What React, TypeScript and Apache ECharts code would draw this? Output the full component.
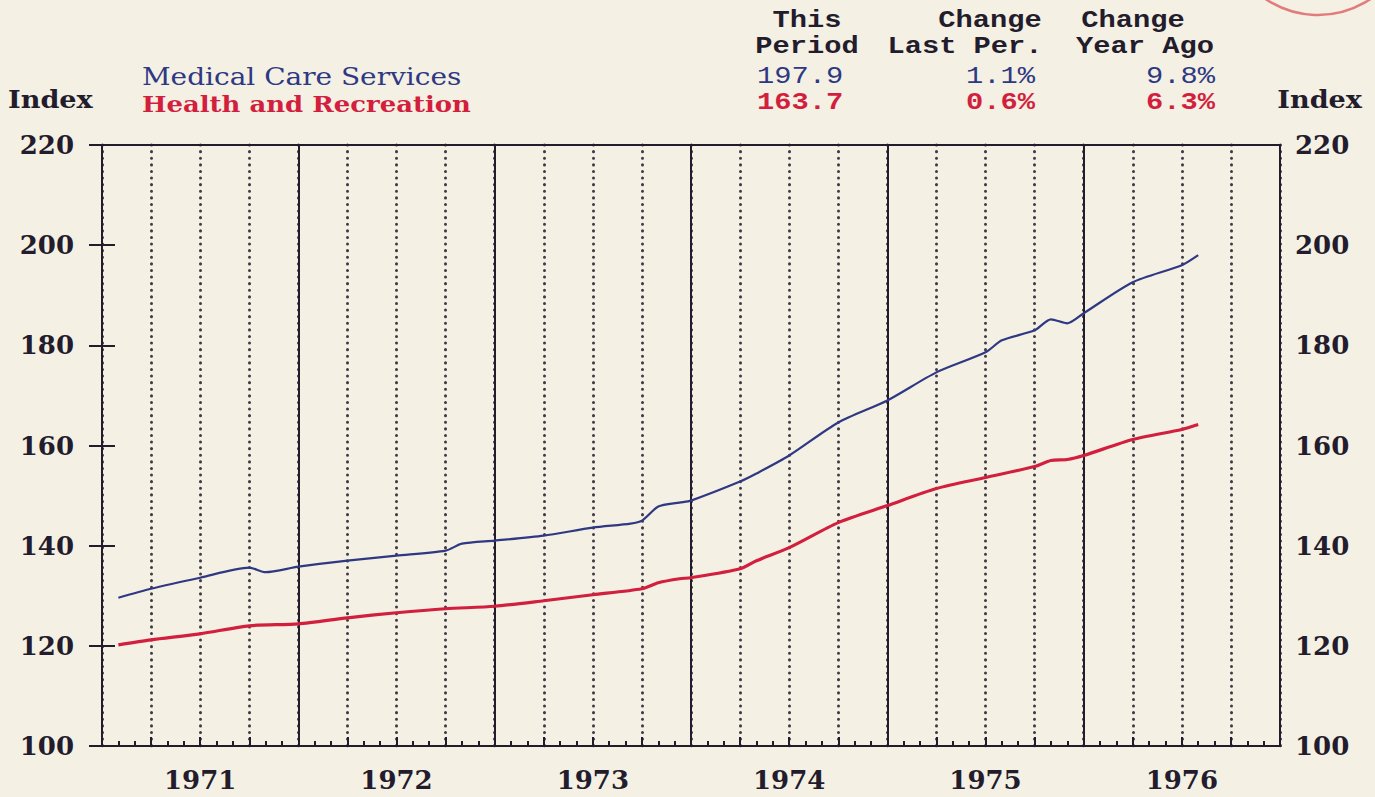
import React, { useEffect, useRef } from "react";
import * as echarts from "echarts";

// months since Jan 1971 (0 = start of 1971, 72 = end of 1976)
const months = [1, 3, 6, 9, 10, 12, 15, 18, 21, 22, 24, 27, 30, 32.3, 33, 34, 35.3, 36, 39, 40, 42, 45, 48, 51, 54, 55, 57, 58, 59, 60, 63, 66, 67];
const medicalCare = [129.6, 131.4, 133.6, 135.6, 134.7, 135.8, 137.0, 138.0, 139.0, 140.4, 141.0, 142.0, 143.6, 144.4, 145.0, 147.8, 148.6, 149.0, 152.8, 154.4, 158.0, 164.6, 169.0, 174.6, 178.6, 181.0, 183.0, 185.2, 184.4, 186.4, 192.6, 196.0, 198.0];
const healthRecreation = [120.2, 121.2, 122.4, 124.0, null, 124.4, 125.6, 126.6, 127.4, null, 127.9, 129.0, 130.2, null, 131.4, 132.6, 133.4, 133.6, 135.4, 137.0, 139.6, 144.6, 148.0, 151.4, 153.6, null, 155.8, 157.0, 157.2, 158.0, 161.2, 163.2, 164.2];
const years = ["1971", "1972", "1973", "1974", "1975", "1976"];
const yTicks = { min: 100, max: 220, interval: 20 };

const headerCols = [
  { title1: "This", title2: "Period", blue: "197.9", red: "163.7" },
  { title1: "Change", title2: "Last Per.", blue: "1.1%", red: "0.6%" },
  { title1: "Change", title2: "Year Ago", blue: "9.8%", red: "6.3%" },
];

const BG = "#f4f0e4";
const BLUE = "#2f3882";
const RED = "#d21f3e";
const INK = "#231c2c";
const SERIF = "'DejaVu Serif', serif";
const MONO = "'Liberation Mono', 'DejaVu Sans Mono', monospace";

export default function App() {
  const ref = useRef<HTMLDivElement>(null);
  useEffect(() => {
    if (!ref.current) return;
    const chart = echarts.init(ref.current, null, { renderer: "svg" });
    const medData = months.map((m, i) => [m, medicalCare[i]]);
    const hrData = months.map((m, i) => [m, healthRecreation[i]]);

    const txt = (text: string, x: number, y: number, fill: string, font: string, align = "left", sx = 1) => ({
      type: "text",
      x,
      y,
      scaleX: sx,
      silent: true,
      style: { text, fill, font, textAlign: align, textVerticalAlign: "middle" },
    });

    const colX = [
      { title: 807, value: 757, valueAlign: "left" },
      { title1: 990, title: 965, value: 1035, valueAlign: "right" },
      { title1: 1133, title: 1145, value: 1215, valueAlign: "right" },
    ];
    const headerEls: any[] = [];
    headerCols.forEach((c, i) => {
      const p: any = colX[i];
      headerEls.push(txt(c.title1, p.title1 ?? p.title, 21, INK, `bold 23px ${MONO}`, "center", 1.25));
      headerEls.push(txt(c.title2, p.title, 47, INK, `bold 23px ${MONO}`, "center", 1.25));
      headerEls.push(txt(c.blue, p.value, 77, BLUE, `23px ${MONO}`, p.valueAlign, 1.25));
      headerEls.push(txt(c.red, p.value, 103, RED, `bold 23px ${MONO}`, p.valueAlign, 1.25));
    });

    chart.setOption({
      animation: false,
      backgroundColor: BG,
      grid: { left: 102, right: 95, top: 145, bottom: 51, containLabel: false },
      xAxis: [
        {
          type: "value",
          min: 0,
          max: 72,
          interval: 3,
          position: "bottom",
          axisLine: { show: true, lineStyle: { color: INK, width: 2 } },
          axisTick: { show: true, inside: true, length: 9, lineStyle: { color: INK, width: 2 } },
          minorTick: { show: true, splitNumber: 3, length: 5, lineStyle: { color: INK, width: 2 } },
          splitLine: { show: true, lineStyle: { color: "#3f3a46", width: 3, type: [0.1, 6.5], cap: "round" } },
          axisLabel: {
            show: true,
            margin: 21,
            color: INK,
            fontFamily: SERIF,
            fontWeight: "bold",
            fontSize: 26,
            formatter: (v: number) => (v % 12 === 6 ? years[(v - 6) / 12] : ""),
          },
        },
        {
          type: "value",
          min: 0,
          max: 72,
          interval: 12,
          position: "top",
          axisLine: { show: true, lineStyle: { color: INK, width: 2 } },
          axisTick: { show: false },
          axisLabel: { show: false },
          splitLine: { show: true, lineStyle: { color: INK, width: 2, type: "solid" } },
        },
      ],
      yAxis: [
        {
          type: "value",
          position: "left",
          ...yTicks,
          axisLine: { show: true, lineStyle: { color: INK, width: 2 } },
          axisTick: { show: true, inside: false, length: 13, lineStyle: { color: INK, width: 2 } },
          axisLabel: { show: true, margin: 28, color: INK, fontFamily: SERIF, fontWeight: "bold", fontSize: 26 },
          splitLine: { show: false },
        },
        {
          type: "value",
          position: "right",
          ...yTicks,
          axisLine: { show: true, lineStyle: { color: INK, width: 2 } },
          axisTick: { show: true, inside: false, length: 13, lineStyle: { color: INK, width: 2 } },
          axisLabel: { show: true, margin: 15, color: INK, fontFamily: SERIF, fontWeight: "bold", fontSize: 26 },
          splitLine: { show: false },
        },
      ],
      series: [
        {
          name: "Medical Care Services",
          type: "line",
          xAxisIndex: 0,
          yAxisIndex: 0,
          data: medData,
          showSymbol: false,
          smooth: 0.25,
          connectNulls: true,
          lineStyle: { color: BLUE, width: 2.2 },
          z: 5,
        },
        {
          name: "Health and Recreation",
          type: "line",
          xAxisIndex: 0,
          yAxisIndex: 0,
          data: hrData,
          showSymbol: false,
          smooth: 0.25,
          connectNulls: true,
          lineStyle: { color: RED, width: 3.2 },
          z: 5,
        },
      ],
      graphic: [
        txt("Index", 8, 100, INK, `bold 24px ${SERIF}`, "left", 1.13),
        txt("Index", 1362, 100, INK, `bold 24px ${SERIF}`, "right", 1.13),
        txt("Medical Care Services", 142, 77, BLUE, `24px ${SERIF}`, "left", 1.165),
        txt("Health and Recreation", 142, 104, RED, `bold 23px ${SERIF}`, "left", 1.127),
        ...headerEls,
        {
          type: "circle",
          silent: true,
          shape: { cx: 1318, cy: -79, r: 94 },
          style: { fill: "none", stroke: "#e27c7c", lineWidth: 2.5 },
        },
      ],
    });
    return () => chart.dispose();
  }, []);
  return (
    <div
      ref={ref}
      style={{ position: "fixed", left: 0, top: 0, width: 1375, height: 797, background: BG }}
    />
  );
}
